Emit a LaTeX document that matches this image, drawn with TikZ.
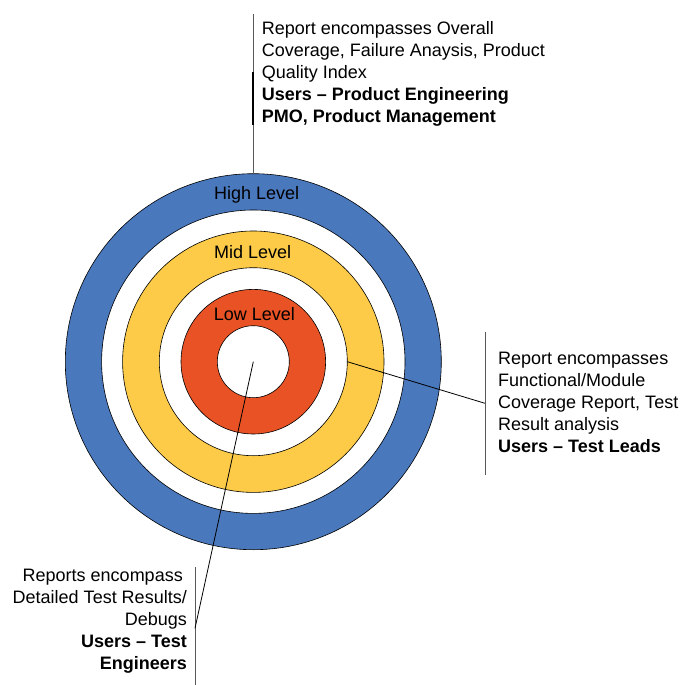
\documentclass[tikz,border=0pt]{standalone}
\usepackage{fontspec}
\setmainfont{Liberation Sans}
\definecolor{highblue}{RGB}{74,120,189}
\definecolor{midyellow}{RGB}{253,203,71}
\definecolor{lowred}{RGB}{232,82,36}
\begin{document}
\begin{tikzpicture}[x=1pt,y=-1pt,
	ring/.style={draw=black, line width=0.6pt, even odd rule},
	lvl/.style={anchor=base, inner sep=0pt, font=\fontsize{18}{22}\selectfont},
	note/.style={inner sep=0pt, font=\fontsize{18}{22}\selectfont},
	bar/.style={draw=black!65, line width=0.9pt},
	lead/.style={draw=black, line width=0.8pt}]
	\useasboundingbox (0,0) rectangle (684,685);
	
	\coordinate (c) at (253.3,361.7);
	\draw[ring, fill=highblue]  (c) circle[radius=188]  (c) circle[radius=151.7];
	\draw[ring, fill=midyellow] (c) circle[radius=130.7] (c) circle[radius=94];
	\draw[ring, fill=lowred]    (c) circle[radius=72.3]  (c) circle[radius=36];
	
	\node[lvl] at (256.7,199.3) (high) {High Level};
	\node[lvl] at (252.7,258.3) (mid)  {Mid Level};
	\node[lvl] at (254.3,320)   (low)  {Low Level};
	
	% high level report
	\coordinate (ringtop) at (253,173.7);
	\coordinate (hightop) at (253,14);
	\draw[bar] (ringtop) -- (hightop);
	\draw[draw=black, line width=2pt] (253,72) -- (253,125);
	\node[note, anchor=north west, align=left] at (261.7,21) (hightext)
		{Report encompasses Overall\\Coverage, Failure Anaysis, Product\\Quality Index\\
		\textbf{Users – Product Engineering}\\\textbf{PMO, Product Management}};
	
	% mid level report
	\coordinate (midpt) at (347.3,361.7);
	\coordinate (rbar) at (485,403.3);
	\draw[bar] (485,332) -- (485,475);
	\draw[lead] (midpt) -- (rbar);
	\node[note, anchor=north west, align=left] at (498,352.3) (midtext)
		{Report encompasses\\Functional/Module\\Coverage Report, Test\\Result analysis\\
		\textbf{Users – Test Leads}};
	
	% low level report
	\coordinate (lbar) at (195,628.3);
	\draw[bar] (195,567) -- (195,685);
	\draw[lead] (c) -- (lbar);
	\node[note, anchor=north east, align=right] at (187,569) (lowtext)
		{Reports encompass\hspace*{4pt}\\Detailed Test Results/\\Debugs\\
		\textbf{Users – Test}\hspace*{4pt}\\\textbf{Engineers}};
\end{tikzpicture}
\end{document}
